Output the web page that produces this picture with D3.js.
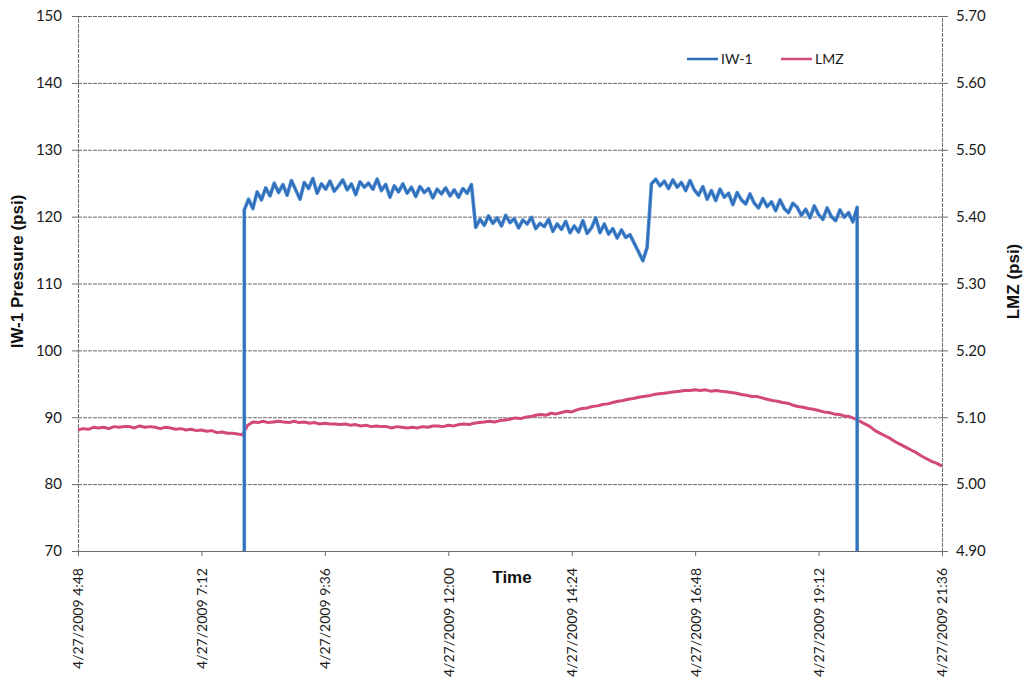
<!DOCTYPE html>
<html>
<head>
<meta charset="utf-8">
<script src="https://cdn.jsdelivr.net/npm/d3@7"></script>
<style>
  html, body { margin: 0; padding: 0; background: #fff; }
  svg { display: block; }
  .tick text { font-family: Lato, "Open Sans", sans-serif; fill: #1a1a1a; }
  .axis-title { font-family: "Liberation Sans", Arial, sans-serif; font-weight: bold; fill: #111; }
</style>
</head>
<body>
<svg id="chart" width="1024" height="684"></svg>
<script>
// time window shown on the x axis (4/27/2009)
var startTime = new Date(2009, 3, 27, 4, 48);
var endTime = new Date(2009, 3, 27, 21, 36);
var tickStepMinutes = 144;

// IW-1 pressure (psi), one reading every 5 minutes from 8:02 until 19:57
var iwStart = new Date(2009, 3, 27, 8, 2);
var iwStepMinutes = 5;
var iwOffValue = 70; // reading before the pump came on and after it stopped
var iwValues = [
  121.0, 122.6, 121.2, 123.7, 122.5, 124.3, 123.1, 125.0, 123.6, 124.8,
  123.2, 125.4, 124.0, 122.6, 125.1, 124.2, 125.7, 123.5, 124.9, 124.1,
  125.3, 123.8, 124.6, 125.5, 124.0, 124.9, 123.3, 125.2, 124.4, 125.0,
  124.1, 125.6, 123.9, 124.8, 122.9, 124.6, 123.7, 124.9, 123.5, 124.4,
  123.0, 124.5, 123.6, 124.2, 122.8, 124.1, 123.4, 124.3, 123.1, 124.0,
  122.9, 124.2, 123.5, 124.8,
  118.4, 119.6, 118.7, 120.1, 119.0, 119.8,
  118.6, 120.2, 119.1, 119.7, 118.3, 119.5, 118.9,
  119.9, 118.2, 119.0, 118.5, 119.6, 117.8, 118.9, 118.1, 119.3, 117.6,
  118.6, 117.7, 119.4, 117.5, 118.3, 119.8, 117.6, 118.9, 117.4, 118.2,
  116.8, 118.0, 116.9, 117.3,
  116.0, 114.7, 113.4, 115.4,
  124.9, 125.6, 124.6, 125.3, 124.2, 125.5, 124.4, 125.1, 123.9, 125.4, 124.0,
  123.2, 124.5, 122.6, 123.9, 122.4, 124.1, 122.9, 123.5, 121.8, 123.6, 122.5, 121.9, 123.4, 122.0,
  121.3, 122.7, 121.5, 122.2, 120.9, 122.5, 121.2, 120.6, 122.0, 121.4, 120.2,
  121.1, 119.8, 121.6, 120.3, 119.6, 121.3, 120.0, 119.4, 121.0, 119.9, 120.6, 119.2, 121.4
];

// LMZ (psi), one reading every 6 minutes from 4:48 until 21:36
var lmzStepMinutes = 6;
var lmzValues = [
  5.081, 5.083, 5.082, 5.085, 5.084, 5.085, 5.083, 5.086, 5.085, 5.086,
  5.086, 5.084, 5.087, 5.085, 5.086, 5.085, 5.083, 5.085, 5.084, 5.082,
  5.083, 5.081, 5.082, 5.080, 5.081, 5.079, 5.080, 5.077, 5.078, 5.076,
  5.076, 5.075, 5.074,
  5.088, 5.093, 5.092, 5.094, 5.092, 5.093, 5.094,
  5.093, 5.092, 5.094, 5.092, 5.093, 5.091, 5.092, 5.090, 5.091, 5.090,
  5.090, 5.089, 5.090, 5.088, 5.089, 5.087, 5.088, 5.086, 5.087, 5.086,
  5.086, 5.084, 5.086, 5.085, 5.084, 5.085, 5.084, 5.086, 5.085, 5.087,
  5.087, 5.086, 5.088, 5.087, 5.089, 5.090, 5.089, 5.091, 5.092, 5.093,
  5.094, 5.093, 5.095, 5.096, 5.097, 5.099, 5.098, 5.100, 5.101, 5.103,
  5.104, 5.103, 5.106, 5.105, 5.107, 5.109, 5.108, 5.111, 5.113, 5.114,
  5.116, 5.117, 5.119, 5.120, 5.122, 5.124, 5.125, 5.127, 5.128, 5.130,
  5.131, 5.132, 5.134, 5.135, 5.136, 5.137, 5.138, 5.139, 5.140, 5.140,
  5.141, 5.140, 5.141, 5.139, 5.140, 5.139, 5.138, 5.137, 5.136, 5.134,
  5.133, 5.131, 5.131, 5.129, 5.127, 5.125, 5.124, 5.122, 5.121, 5.118,
  5.116, 5.115, 5.113, 5.112, 5.110, 5.108, 5.107, 5.105, 5.104, 5.102,
  5.101, 5.098, 5.094, 5.090, 5.086, 5.080, 5.076, 5.072, 5.068, 5.063,
  5.059, 5.055, 5.051, 5.047, 5.042, 5.038, 5.034, 5.031, 5.027
];

var leftDomain = [70, 150];
var rightDomain = [4.9, 5.7];
var leftTicks = [70, 80, 90, 100, 110, 120, 130, 140, 150];
var rightTicks = [4.9, 5.0, 5.1, 5.2, 5.3, 5.4, 5.5, 5.6, 5.7];

var seriesNames = ['IW-1', 'LMZ'];
var seriesColors = { 'IW-1': '#2f6cb8', 'LMZ': '#d3487c' };

var margin = { top: 16, right: 82, bottom: 133, left: 78 };
var width = 1024 - margin.left - margin.right;
var height = 684 - margin.top - margin.bottom;

function addMinutes(date, m) {
  return new Date(date.getTime() + m * 60000);
}

var iwData = [{ t: iwStart, v: iwOffValue }];
iwValues.forEach(function(v, i) {
  iwData.push({ t: addMinutes(iwStart, i * iwStepMinutes), v: v });
});
iwData.push({ t: addMinutes(iwStart, (iwValues.length - 1) * iwStepMinutes), v: iwOffValue });

var lmzData = lmzValues.map(function(v, i) {
  return { t: addMinutes(startTime, i * lmzStepMinutes), v: v };
});

var tickTimes = d3.range(0, 8).map(function(i) { return addMinutes(startTime, i * tickStepMinutes); });

var x = d3.scaleTime().domain([startTime, endTime]).range([0, width]);
var yLeft = d3.scaleLinear().domain(leftDomain).range([height, 0]);
var yRight = d3.scaleLinear().domain(rightDomain).range([height, 0]);

var svg = d3.select('#chart');
var g = svg.append('g')
  .attr('transform', 'translate(' + margin.left + ',' + margin.top + ')');

// horizontal grid
g.append('g')
  .attr('class', 'grid')
  .selectAll('line')
  .data(leftTicks)
  .enter().append('line')
  .attr('x1', 0)
  .attr('x2', width)
  .attr('y1', function(d) { return yLeft(d) + 0.5; })
  .attr('y2', function(d) { return yLeft(d) + 0.5; })
  .attr('stroke', '#6a6a6a')
  .attr('stroke-width', 1)
  .attr('stroke-dasharray', '4,1');

// axes
var leftAxis = g.append('g')
  .call(d3.axisLeft(yLeft).tickValues(leftTicks).tickSize(6).tickPadding(10));
var rightAxis = g.append('g')
  .attr('transform', 'translate(' + width + ',0)')
  .call(d3.axisRight(yRight).tickValues(rightTicks).tickSize(6).tickPadding(8).tickFormat(d3.format('.2f')));
var bottomAxis = g.append('g')
  .attr('transform', 'translate(0,' + height + ')')
  .call(d3.axisBottom(x).tickValues(tickTimes).tickSize(5).tickFormat(d3.timeFormat('%-m/%-d/%Y %-H:%M')));

[leftAxis, rightAxis, bottomAxis].forEach(function(a) {
  a.select('.domain').attr('stroke', '#6a6a6a').attr('stroke-dasharray', '4,1');
  a.selectAll('.tick line').attr('stroke', '#6a6a6a');
});
leftAxis.selectAll('.tick text').style('font-size', '15px');
rightAxis.selectAll('.tick text').style('font-size', '15px');
bottomAxis.selectAll('.tick text')
  .style('font-size', '14px')
  .attr('text-anchor', 'end')
  .attr('transform', 'rotate(-90)')
  .attr('x', -17)
  .attr('y', 0)
  .attr('dy', '0.35em');

// series
var clipId = 'plot-clip';
g.append('clipPath').attr('id', clipId)
  .append('rect')
  .attr('x', -1)
  .attr('y', -1)
  .attr('width', width + 2)
  .attr('height', height + 2);

var iwLine = d3.line()
  .x(function(d) { return x(d.t); })
  .y(function(d) { return yLeft(d.v); });
var lmzLine = d3.line()
  .x(function(d) { return x(d.t); })
  .y(function(d) { return yRight(d.v); });

var plot = g.append('g').attr('clip-path', 'url(#' + clipId + ')');
plot.append('path')
  .datum(lmzData)
  .attr('fill', 'none')
  .attr('stroke', seriesColors['LMZ'])
  .attr('stroke-width', 3)
  .attr('stroke-linejoin', 'round')
  .attr('d', lmzLine);
plot.append('path')
  .datum(iwData)
  .attr('fill', 'none')
  .attr('stroke', '#4a8ad0')
  .attr('stroke-width', 3.6)
  .attr('stroke-linejoin', 'round')
  .attr('d', iwLine);
plot.append('path')
  .datum(iwData)
  .attr('fill', 'none')
  .attr('stroke', seriesColors['IW-1'])
  .attr('stroke-width', 1.6)
  .attr('stroke-linejoin', 'round')
  .attr('d', iwLine);

// legend
var legend = g.append('g')
  .attr('transform', 'translate(609,43)');
var item = legend.selectAll('g.legend-item')
  .data(seriesNames)
  .enter().append('g')
  .attr('class', 'legend-item')
  .attr('transform', function(d, i) { return 'translate(' + (i * 94) + ',0)'; });
item.append('line')
  .attr('x1', 0)
  .attr('x2', 31)
  .attr('y1', 0)
  .attr('y2', 0)
  .attr('stroke', function(d) { return seriesColors[d]; })
  .attr('stroke-width', 2.5);
item.append('text')
  .attr('x', 34)
  .attr('y', 0)
  .attr('dy', '0.35em')
  .style('font-family', 'Lato, "Open Sans", sans-serif')
  .style('font-size', '14px')
  .style('fill', '#1a1a1a')
  .text(function(d) { return d; });

// axis titles
svg.append('text')
  .attr('class', 'axis-title')
  .attr('transform', 'translate(23,' + (margin.top + height / 2 - 12) + ') rotate(-90)')
  .attr('text-anchor', 'middle')
  .style('font-size', '17px')
  .text('IW-1 Pressure (psi)');
svg.append('text')
  .attr('class', 'axis-title')
  .attr('transform', 'translate(1019,' + (margin.top + height / 2 - 2) + ') rotate(-90)')
  .attr('text-anchor', 'middle')
  .style('font-size', '17px')
  .text('LMZ (psi)');
svg.append('text')
  .attr('class', 'axis-title')
  .attr('x', margin.left + width / 2 + 2)
  .attr('y', margin.top + height + 32)
  .attr('text-anchor', 'middle')
  .style('font-size', '17px')
  .text('Time');
</script>
</body>
</html>
